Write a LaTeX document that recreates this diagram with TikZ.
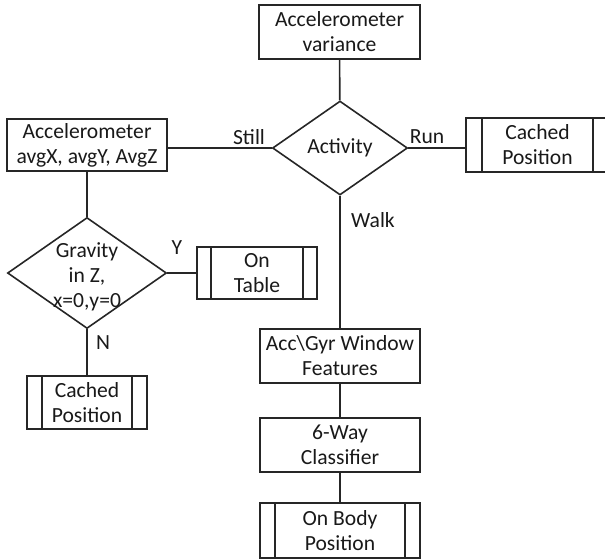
\documentclass[tikz,border=0pt]{standalone}
\usepackage{fontspec}
\setmainfont{Carlito}
\usepackage{tikz}
\usetikzlibrary{shapes.geometric}
\tikzset{>=latex}
\colorlet{linecol}{black!85}
\colorlet{textcol}{black!90}
\tikzstyle{block}=[draw=linecol,line width=0.8pt,minimum width=80pt,minimum height=27pt,
                   align=center,inner sep=1pt,text=textcol]
\tikzstyle{decision}=[draw=linecol,line width=0.8pt,diamond,inner sep=0pt,align=center,text=textcol]
\tikzstyle{branch}=[inner sep=1pt,text=textcol]
\tikzstyle{connector}=[draw=linecol,line width=0.8pt]
\tikzset{
  stored/.style={block,path picture={
      \draw[linecol,line width=0.8pt]
        ([xshift=#1]path picture bounding box.north west) -- ([xshift=#1]path picture bounding box.south west);
      \draw[linecol,line width=0.8pt]
        ([xshift=-#1]path picture bounding box.north east) -- ([xshift=-#1]path picture bounding box.south east);
    }},
  stored/.default=7.5pt}

\begin{document}
\begin{tikzpicture}[x=0.5pt,y=-0.5pt,font=\fontsize{10.8}{12.5}\selectfont]
  \useasboundingbox (0,0) rectangle (605,559);

  % BOXES
  \node[block,minimum width=80.5pt] (var) at (339.5,32) {Accelerometer\\variance};
  \node[block,minimum width=80pt,minimum height=26pt] (avg) at (87,145)
    {Accelerometer\\avgX, avgY, AvgZ};
  \node[block] (win) at (340,356) {Acc\textbackslash Gyr Window\\Features};
  \node[block] (clf) at (340,445) {6-Way\\Classifier};

  % STORED RESULTS
  \node[stored=8pt,minimum width=71.5pt] (cachedR) at (537.5,145) {Cached\\Position};
  \node[stored=7pt,minimum width=60pt,minimum height=26pt] (table) at (257,273) {On\\Table};
  \node[stored,minimum width=60pt,minimum height=26.5pt] (cachedL) at (87,402.5) {Cached\\Position};
  \node[stored,minimum height=27.5pt] (body) at (340,530.5) {On Body\\Position};

  % DECISIONS
  \node[decision,minimum width=67.5pt,minimum height=47pt] (act) at (340,148) {Activity};
  \node[decision,minimum width=79.5pt,minimum height=55.5pt] (grav) at (87,273) {};
  \node[branch,align=center] (gravtxt) at (87,277) {Gravity\\in Z,\\x=0,y=0};

  % CONNECTORS
  \draw[connector] (var) -- (act);
  \draw[connector] (act.west) -- (act.west -| avg.east);
  \draw[connector] (act.east) -- (act.east -| cachedR.west);
  \draw[connector] (act.south) -- (win.north);
  \draw[connector] (win) -- (clf);
  \draw[connector] (clf) -- (body);
  \draw[connector] (avg.south -| grav.north) -- (grav.north);
  \draw[connector] (grav.east) -- (table.west);
  \draw[connector] (grav.south) -- (cachedL.north);

  % BRANCH LABELS
  \node[branch] (still) at (249,137) {Still};
  \node[branch] (run) at (427,137) {Run};
  \node[branch] (walk) at (373,220) {Walk};
  \node[branch] (yes) at (177,248) {Y};
  \node[branch] (no) at (103,343) {N};

\end{tikzpicture}
\end{document}
